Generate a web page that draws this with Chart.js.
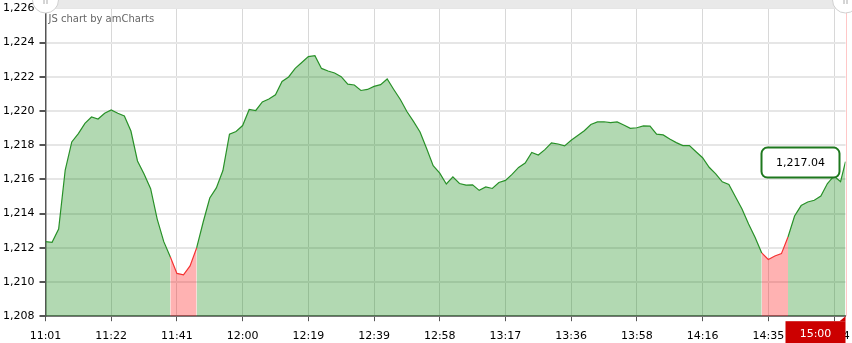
<!DOCTYPE html>
<html><head><meta charset="utf-8">
<script src="https://cdn.jsdelivr.net/npm/chart.js@4/dist/chart.umd.min.js"></script>
<style>html,body{margin:0;padding:0;background:#fff;overflow:hidden}#wrap{width:852px;height:343px;position:relative}</style>
</head><body><div id="wrap"><canvas id="c" width="852" height="343"></canvas></div>
<script>
// ---- data ----
const tickLabels = ['11:01','11:22','11:41','12:00','12:19','12:39','12:58','13:17','13:36','13:58','14:16','14:35','14:54'];
const TICK_EVERY = 20;   // bars between labelled ticks
const STEP = 2;          // bars between sampled values
const values = [
  1212.36,1212.32,1213.10,1216.55,1218.19,1218.68,1219.28,1219.65,1219.53,1219.87,
  1220.06,1219.87,1219.71,1218.83,1217.08,1216.32,1215.46,1213.68,1212.36,1211.46,
  1210.50,1210.42,1210.94,1211.99,1213.51,1214.91,1215.50,1216.52,1218.65,1218.80,
  1219.15,1220.09,1220.03,1220.53,1220.70,1220.95,1221.73,1221.99,1222.49,1222.84,
  1223.18,1223.23,1222.49,1222.34,1222.22,1222.01,1221.57,1221.52,1221.20,1221.26,
  1221.44,1221.54,1221.87,1221.26,1220.67,1219.97,1219.39,1218.77,1217.81,1216.80,
  1216.37,1215.73,1216.15,1215.76,1215.67,1215.68,1215.36,1215.56,1215.47,1215.82,
  1215.94,1216.29,1216.70,1216.96,1217.58,1217.43,1217.74,1218.14,1218.07,1217.96,
  1218.29,1218.57,1218.85,1219.21,1219.36,1219.37,1219.32,1219.36,1219.18,1218.99,
  1219.02,1219.13,1219.12,1218.65,1218.60,1218.36,1218.15,1217.98,1217.98,1217.62,
  1217.27,1216.71,1216.32,1215.86,1215.70,1214.98,1214.27,1213.39,1212.60,1211.70,
  1211.32,1211.52,1211.66,1212.63,1213.86,1214.47,1214.68,1214.78,1215.03,1215.76,
  1216.20,1215.87
];
const closeIndex = 243.5;
const closeValue = 1217.04;
const closeTime = '15:00';
const redRanges = [[38,46],[218,226]];
const yMin = 1208, yMax = 1226, yStep = 2;

// ---- style ----
const GREEN_LINE = 'rgb(40,145,40)';
const GREEN_FILL = 'rgba(0,128,0,0.3)';
const RED_LINE = 'rgb(245,50,50)';
const RED_FILL = 'rgba(255,0,0,0.3)';
const FONT = '"DejaVu Sans", Verdana, sans-serif';

const points = values.map((v, i) => ({x: i * STEP, y: v}));
points.push({x: closeIndex, y: closeValue});

const isRed = c => redRanges.some(([a, b]) => c.p0.parsed.x >= a && c.p1.parsed.x <= b);

function rr(ctx, x, y, w, h, r) {
  ctx.beginPath();
  ctx.moveTo(x + r, y); ctx.lineTo(x + w - r, y); ctx.arcTo(x + w, y, x + w, y + r, r);
  ctx.lineTo(x + w, y + h - r); ctx.arcTo(x + w, y + h, x + w - r, y + h, r);
  ctx.lineTo(x + r, y + h); ctx.arcTo(x, y + h, x, y + h - r, r);
  ctx.lineTo(x, y + r); ctx.arcTo(x, y, x + r, y, r); ctx.closePath();
}

const decor = {
  id: 'decor',
  afterDraw(chart) {
    const {ctx, chartArea: a, scales: {x, y}} = chart;
    const px = x.getPixelForValue(closeIndex), py = y.getPixelForValue(closeValue);
    ctx.save();
    // cursor line
    ctx.strokeStyle = 'rgba(255,0,0,0.22)'; ctx.lineWidth = 1;
    ctx.beginPath(); ctx.moveTo(Math.round(px) + 0.5, 0); ctx.lineTo(Math.round(px) + 0.5, a.bottom); ctx.stroke();
    // scrollbar band
    ctx.fillStyle = '#e9e9e9'; ctx.fillRect(a.left, 0, a.right - a.left + 6, 8);
    // grips
    [a.left, a.right].forEach(gx => {
      ctx.beginPath(); ctx.arc(gx, 0, 13, 0, Math.PI * 2);
      ctx.fillStyle = '#fff'; ctx.fill();
      ctx.strokeStyle = '#d0d0d0'; ctx.lineWidth = 1; ctx.stroke();
      ctx.strokeStyle = '#aaa';
      ctx.beginPath(); ctx.moveTo(gx - 1.5, 0); ctx.lineTo(gx - 1.5, 4); ctx.moveTo(gx + 1.5, 0); ctx.lineTo(gx + 1.5, 4); ctx.stroke();
    });
    // watermark
    ctx.fillStyle = '#666'; ctx.font = '10px ' + FONT; ctx.textBaseline = 'middle'; ctx.textAlign = 'left';
    ctx.fillText('JS chart by amCharts', a.left + 3, 19);
    // value balloon
    const bw = 78, bh = 30, bx = px - 84, by = py - 14;
    ctx.fillStyle = '#fff'; ctx.strokeStyle = 'rgb(30,120,30)'; ctx.lineWidth = 2;
    rr(ctx, bx, by, bw, bh, 6); ctx.fill(); ctx.stroke();
    ctx.fillStyle = '#000'; ctx.font = '11px ' + FONT; ctx.textAlign = 'center';
    ctx.fillText(closeValue.toLocaleString('en-US', {minimumFractionDigits: 2}), bx + bw / 2, by + bh / 2 + 1);
    // category box
    const cw = 60, cy = a.bottom + 5;
    ctx.fillStyle = '#cc0000';
    ctx.fillRect(px - cw, cy, cw, chart.height - cy);
    ctx.beginPath(); ctx.moveTo(px - 6, cy); ctx.lineTo(px, a.bottom); ctx.lineTo(px, cy); ctx.closePath(); ctx.fill();
    ctx.fillStyle = '#fff'; ctx.font = '11px ' + FONT; ctx.textAlign = 'center';
    ctx.fillText(closeTime, px - cw / 2, cy + 13);
    ctx.restore();
  }
};

new Chart(document.getElementById('c'), {
  type: 'line',
  data: {
    datasets: [{
      data: points,
      borderColor: GREEN_LINE,
      backgroundColor: GREEN_FILL,
      borderWidth: 1.2,
      fill: 'start',
      pointRadius: 0,
      tension: 0,
      segment: {
        borderColor: c => isRed(c) ? RED_LINE : undefined,
        backgroundColor: c => isRed(c) ? RED_FILL : undefined
      }
    }]
  },
  options: {
    responsive: false,
    devicePixelRatio: 1,
    animation: false,
    events: [],
    layout: {padding: {top: 8.4, right: 6.5, bottom: 0, left: 0}},
    plugins: {legend: {display: false}, tooltip: {enabled: false}},
    scales: {
      x: {
        type: 'linear', min: 0, max: closeIndex,
        afterBuildTicks: s => { s.ticks = tickLabels.map((_, i) => ({value: i * TICK_EVERY})); },
        afterFit: s => { s.height = 26.8; s.paddingLeft = 0; s.paddingRight = 0; },
        ticks: {
          autoSkip: false, maxRotation: 0, padding: 8,
          color: '#000', font: {family: FONT, size: 11},
          callback: v => tickLabels[Math.round(v / TICK_EVERY)]
        },
        grid: {color: '#d8d8d8', lineWidth: 1, tickLength: 5, tickColor: '#555'},
        border: {display: true, color: '#777', width: 2}
      },
      y: {
        min: yMin, max: yMax,
        afterFit: s => { s.width = 45.5; s.paddingTop = 0; s.paddingBottom = 0; },
        ticks: {
          stepSize: yStep, padding: 5,
          color: '#000', font: {family: FONT, size: 11},
          callback: v => v.toLocaleString('en-US')
        },
        grid: {color: '#e6e6e6', lineWidth: 2, tickLength: 6, tickColor: '#555'},
        border: {display: true, color: '#555', width: 1.5}
      }
    }
  },
  plugins: [decor]
});
</script>
</body></html>
